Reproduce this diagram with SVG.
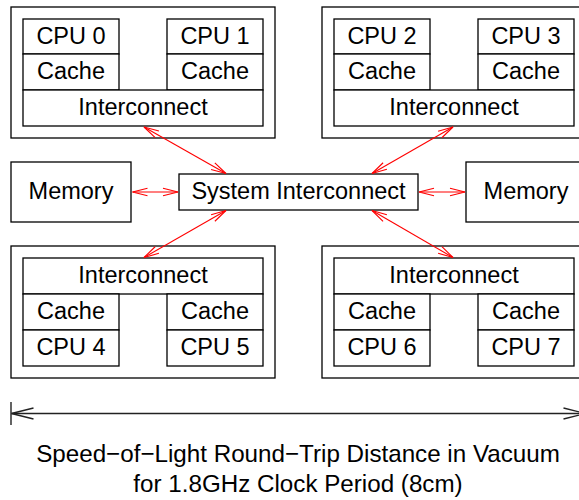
<svg xmlns="http://www.w3.org/2000/svg" width="579" height="500" viewBox="0 0 579 500">
<style>
rect{fill:#fff;stroke:#000;stroke-width:1.3}
text{font-family:"Liberation Sans",Arial,sans-serif;font-size:23.5px;fill:#000;text-anchor:middle}
.cap{font-size:24.2px}
.link{stroke:#f00;stroke-width:1.1;fill:none;marker-start:url(#ah);marker-end:url(#ah)}
.dim{stroke:#222;stroke-width:1.4;fill:none}
</style>
<defs>
<marker id="ah" viewBox="-16 -5 17 10" refX="0" refY="0" markerWidth="17" markerHeight="10" markerUnits="userSpaceOnUse" orient="auto-start-reverse">
<path d="M-15,-3.8 L0,0 L-15,3.8" fill="none" stroke="#f00" stroke-width="1.1"/>
</marker>
<marker id="dh" viewBox="-23 -7 24 14" refX="0" refY="0" markerWidth="24" markerHeight="14" markerUnits="userSpaceOnUse" orient="auto-start-reverse">
<path d="M-22,-5.5 L0,0 L-22,5.5" fill="none" stroke="#222" stroke-width="1.4"/>
</marker>
</defs>

<g id="node-group0">
<rect x="11" y="7" width="264" height="131"/>
<rect x="23" y="19" width="96" height="35"/><text x="71" y="44">CPU 0</text>
<rect x="23" y="54" width="96" height="36"/><text x="71" y="79">Cache</text>
<rect x="167" y="19" width="96" height="35"/><text x="215" y="44">CPU 1</text>
<rect x="167" y="54" width="96" height="36"/><text x="215" y="79">Cache</text>
<rect x="23" y="90" width="240" height="36"/><text x="143" y="115">Interconnect</text>
</g>

<g id="node-group1">
<rect x="322" y="7" width="264" height="131"/>
<rect x="334" y="19" width="96" height="35"/><text x="382" y="44">CPU 2</text>
<rect x="334" y="54" width="96" height="36"/><text x="382" y="79">Cache</text>
<rect x="478" y="19" width="96" height="35"/><text x="526" y="44">CPU 3</text>
<rect x="478" y="54" width="96" height="36"/><text x="526" y="79">Cache</text>
<rect x="334" y="90" width="240" height="36"/><text x="454" y="115">Interconnect</text>
</g>

<g id="node-group2">
<rect x="11" y="246" width="264" height="132"/>
<rect x="23" y="258" width="240" height="36"/><text x="143" y="283">Interconnect</text>
<rect x="23" y="294" width="96" height="36"/><text x="71" y="319">Cache</text>
<rect x="23" y="330" width="96" height="36"/><text x="71" y="355">CPU 4</text>
<rect x="167" y="294" width="96" height="36"/><text x="215" y="319">Cache</text>
<rect x="167" y="330" width="96" height="36"/><text x="215" y="355">CPU 5</text>
</g>

<g id="node-group3">
<rect x="322" y="246" width="264" height="132"/>
<rect x="334" y="258" width="240" height="36"/><text x="454" y="283">Interconnect</text>
<rect x="334" y="294" width="96" height="36"/><text x="382" y="319">Cache</text>
<rect x="334" y="330" width="96" height="36"/><text x="382" y="355">CPU 6</text>
<rect x="478" y="294" width="96" height="36"/><text x="526" y="319">Cache</text>
<rect x="478" y="330" width="96" height="36"/><text x="526" y="355">CPU 7</text>
</g>

<g id="node-memory-left">
<rect x="11" y="162" width="120" height="60"/><text x="71" y="199">Memory</text>
</g>
<g id="node-memory-right">
<rect x="466" y="162" width="120" height="60"/><text x="526" y="199">Memory</text>
</g>
<g id="node-system-interconnect">
<rect x="179" y="174" width="239" height="36"/><text x="298.5" y="199">System Interconnect</text>
</g>

<g id="connectors">
<line class="link" x1="144" y1="127" x2="226" y2="173.5"/>
<line class="link" x1="453" y1="127" x2="372" y2="173.5"/>
<line class="link" x1="226" y1="210.5" x2="144" y2="257.5"/>
<line class="link" x1="372" y1="210.5" x2="453" y2="257.5"/>
<line class="link" x1="132.5" y1="192" x2="178" y2="192"/>
<line class="link" x1="419" y1="192" x2="465" y2="192"/>
</g>

<g id="dimension">
<line class="dim" x1="11" y1="402" x2="11" y2="425"/>
<line class="dim" x1="586" y1="402" x2="586" y2="425"/>
<line class="dim" x1="11.5" y1="413.5" x2="585.5" y2="413.5" marker-start="url(#dh)" marker-end="url(#dh)"/>
<text class="cap" x="298" y="462">Speed−of−Light Round−Trip Distance in Vacuum</text>
<text class="cap" x="298" y="492">for 1.8GHz Clock Period (8cm)</text>
</g>
</svg>
